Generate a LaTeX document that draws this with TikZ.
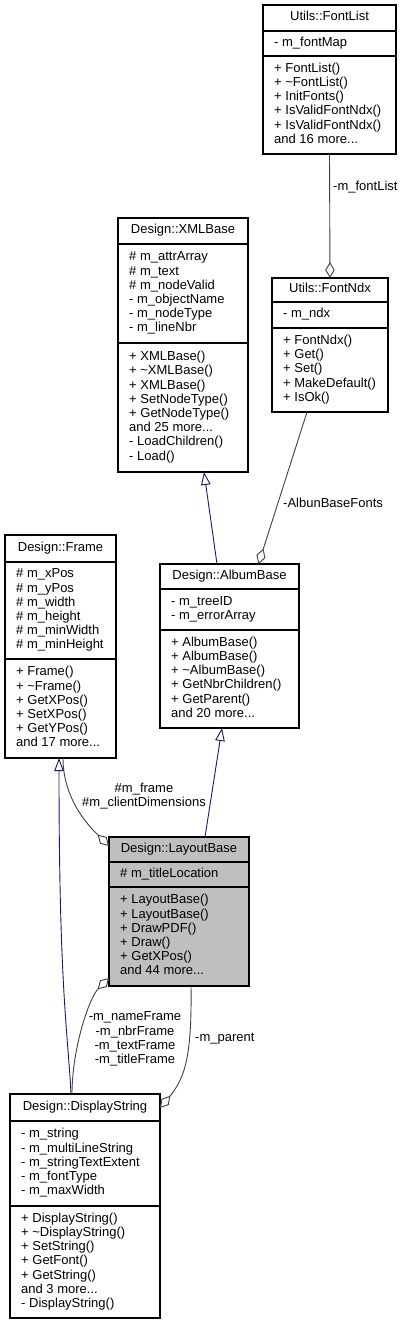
\documentclass[tikz,border=0pt]{standalone}
\usepackage{fontspec}
\setmainfont{Liberation Sans}
\usetikzlibrary{arrows.meta}
\definecolor{inhblue}{HTML}{191970}
\definecolor{agggray}{HTML}{404040}
\definecolor{hilite}{HTML}{BFBFBF}
\newcommand\umlfont{\fontsize{13}{14.2}\selectfont}
% name, left, top, right, sep1, sep2, bottom, fill, title
\newcommand\classbox[9]{%
  \node[cls, fill=#8, minimum width={(#4)-(#2)}, minimum height={(#7)-(#3)}] (#1) at (#2,#3) {};
  \draw[sepline] (#2,#5) -- (#4,#5);
  \draw[sepline] (#2,#6) -- (#4,#6);
  \node[ttl] (#1-title) at ({(#2+#4)/2},{(#3+#5)/2}) {\strut #9};
}
% name, left, sep1, sep2, bottom, attrs, methods
\newcommand\classmembers[7]{%
  \node[mem] (#1-attrs) at ({#2+11},{(#3+#4)/2}) {\strut #6\strut};
  \node[mem] (#1-ops) at ({#2+11},{(#4+#5)/2}) {\strut #7\strut};
}
\tikzset{
  cls/.style={draw=black, line width=1.1pt, inner sep=0pt, outer sep=0pt, anchor=north west},
  sepline/.style={draw=black, line width=1.1pt},
  ttl/.style={font=\umlfont, inner sep=0pt},
  mem/.style={font=\umlfont, anchor=west, align=left, inner sep=0pt},
  lbl/.style={font=\umlfont, inner sep=0pt, align=center},
  inh/.style={draw=inhblue, line width=0.9pt, -{Triangle[length=13pt,width=9.5pt,fill=white]}},
  agg/.style={draw=agggray, line width=0.9pt, {Diamond[length=16pt,width=9.5pt,fill=white]}-},
}
\begin{document}
\begin{tikzpicture}[x=1pt,y=-1pt]
\useasboundingbox (0,0) rectangle (405,1323);

% Utils::FontList
\classbox{fontlist}{263}{5}{396}{31}{56}{154}{white}{Utils::FontList}
\classmembers{fontlist}{263}{31}{56}{154}{- m\_fontMap}{+ FontList()\\+ \textasciitilde FontList()\\+ InitFonts()\\+ IsValidFontNdx()\\+ IsValidFontNdx()\\and 16 more...}

% Utils::FontNdx
\classbox{fntndx}{272}{278}{388}{302}{328}{412}{white}{Utils::FontNdx}
\classmembers{fntndx}{272}{302}{328}{412}{- m\_ndx}{+ FontNdx()\\+ Get()\\+ Set()\\+ MakeDefault()\\+ IsOk()}

% Design::XMLBase
\classbox{xml}{118}{218}{248}{244}{343}{472}{white}{Design::XMLBase}
\classmembers{xml}{118}{244}{343}{472}{\# m\_attrArray\\\# m\_text\\\# m\_nodeValid\\- m\_objectName\\- m\_nodeType\\- m\_lineNbr}{+ XMLBase()\\+ \textasciitilde XMLBase()\\+ XMLBase()\\+ SetNodeType()\\+ GetNodeType()\\and 25 more...\\- LoadChildren()\\- Load()}

% Design::Frame
\classbox{frame}{5}{535}{116}{562}{659}{758}{white}{Design::Frame}
\classmembers{frame}{5}{562}{659}{758}{\# m\_xPos\\\# m\_yPos\\\# m\_width\\\# m\_height\\\# m\_minWidth\\\# m\_minHeight}{+ Frame()\\+ \textasciitilde Frame()\\+ GetXPos()\\+ SetXPos()\\+ GetYPos()\\and 17 more...}

% Design::AlbumBase
\classbox{album}{160}{564}{299}{589}{630}{728}{white}{Design::AlbumBase}
\classmembers{album}{160}{589}{630}{728}{- m\_treeID\\- m\_errorArray}{+ AlbumBase()\\+ AlbumBase()\\+ \textasciitilde AlbumBase()\\+ GetNbrChildren()\\+ GetParent()\\and 20 more...}

% Design::LayoutBase
\classbox{layout}{109}{837}{249}{862}{887}{986}{hilite}{Design::LayoutBase}
\classmembers{layout}{109}{862}{887}{986}{\# m\_titleLocation}{+ LayoutBase()\\+ LayoutBase()\\+ DrawPDF()\\+ Draw()\\+ GetXPos()\\and 44 more...}

% Design::DisplayString
\classbox{display}{10}{1094}{160}{1121}{1206}{1318}{white}{Design::DisplayString}
\classmembers{display}{10}{1121}{1206}{1318}{- m\_string\\- m\_multiLineString\\- m\_stringTextExtent\\- m\_fontType\\- m\_maxWidth}{+ DisplayString()\\+ \textasciitilde DisplayString()\\+ SetString()\\+ GetFont()\\+ GetString()\\and 3 more...\\- DisplayString()}

% connectors
\draw[agg] (fntndx.north) -- (fontlist.south);
\node[lbl, anchor=west] (lfontlist) at (333,187) {-m\_fontList};

\draw[agg] ([xshift=29pt]album.north) -- ([xshift=-23pt]fntndx.south);
\node[lbl, anchor=west] (lalbunfonts) at (283,503) {-AlbunBaseFonts};

\draw[inh] ([xshift=-12.5pt]album.north) -- ([xshift=21pt]xml.south);
\draw[inh] ([xshift=26pt]layout.north) -- ([xshift=-7.5pt]album.south);

\draw[agg] ([yshift=-9pt]layout.north west) .. controls +(-15,-15) and +(0,45) .. ([xshift=2.5pt]frame.south);
\node[lbl] (lframe) at (144,796) {\#m\_frame\\\#m\_clientDimensions};

\draw[inh] ([xshift=-14pt]display.north) .. controls +(-3,-60) and +(0,230) .. ([xshift=-1.5pt]frame.south);

\draw[agg] ([yshift=8pt]layout.south west) .. controls +(-20,20) and +(0,-45) .. ([xshift=-13pt]display.north);
\node[lbl] (lframes) at (135,1039) {-m\_nameFrame\\-m\_nbrFrame\\-m\_textFrame\\-m\_titleFrame};

\draw[agg] ([yshift=-14pt]display.north east) .. controls +(25,-30) and +(1,70) .. ([xshift=12pt]layout.south);
\node[lbl, anchor=west] (lparent) at (195,1039) {-m\_parent};
\end{tikzpicture}
\end{document}
